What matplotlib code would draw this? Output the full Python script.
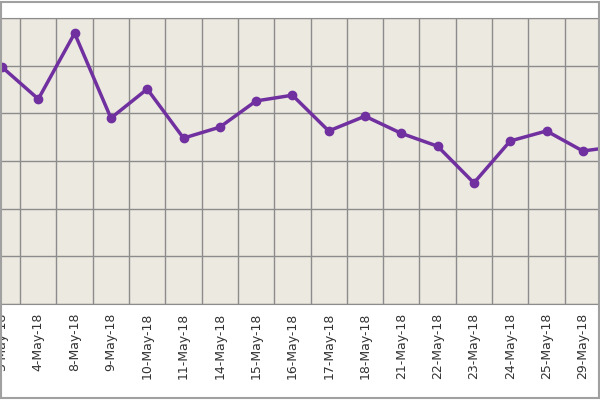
import matplotlib.pyplot as plt
import numpy as np

dates = ['3-May-18', '4-May-18', '8-May-18', '9-May-18', '10-May-18', '11-May-18',
         '14-May-18', '15-May-18', '16-May-18', '17-May-18', '18-May-18', '21-May-18',
         '22-May-18', '23-May-18', '24-May-18', '25-May-18', '29-May-18', '30-May-18']
values = [4.97, 4.30, 5.68, 3.90, 4.51, 3.48, 3.71, 4.26, 4.38, 3.63, 3.94, 3.58,
          3.31, 2.54, 3.42, 3.63, 3.21, 3.31]

fig = plt.figure(figsize=(6, 4), dpi=100)
n = len(dates)
ax = fig.add_axes([-0.0269, 0.24, 36.3 * n / 600, 0.715])
ax.set_facecolor('#ECE9E0')

x = np.arange(n)
ax.plot(x, values, color='#7030A0', lw=2.5, marker='o', ms=6, zorder=3)

ax.set_xlim(-0.5, n - 0.5)
ax.set_ylim(0, 6)
ax.set_xticks(x)
ax.set_xticklabels(dates, rotation=90, fontsize=9, color='#333333')
ax.set_xticks(x + 0.5, minor=True)
ax.set_yticks(range(7))
ax.set_yticklabels([])
ax.tick_params(which='both', length=0, pad=6)
ax.grid(True, which='minor', axis='x', color='#8C8C8C', lw=1)
ax.grid(True, which='major', axis='y', color='#8C8C8C', lw=1)
for s in ax.spines.values():
    s.set_color('#8C8C8C')

# outer chart border
fig.patches.append(plt.Rectangle((0.001, 0.004), 0.998, 0.99, transform=fig.transFigure,
                                 fill=False, edgecolor='#A0A0A0', lw=1.5))

fig.savefig('out.png', dpi=100)
